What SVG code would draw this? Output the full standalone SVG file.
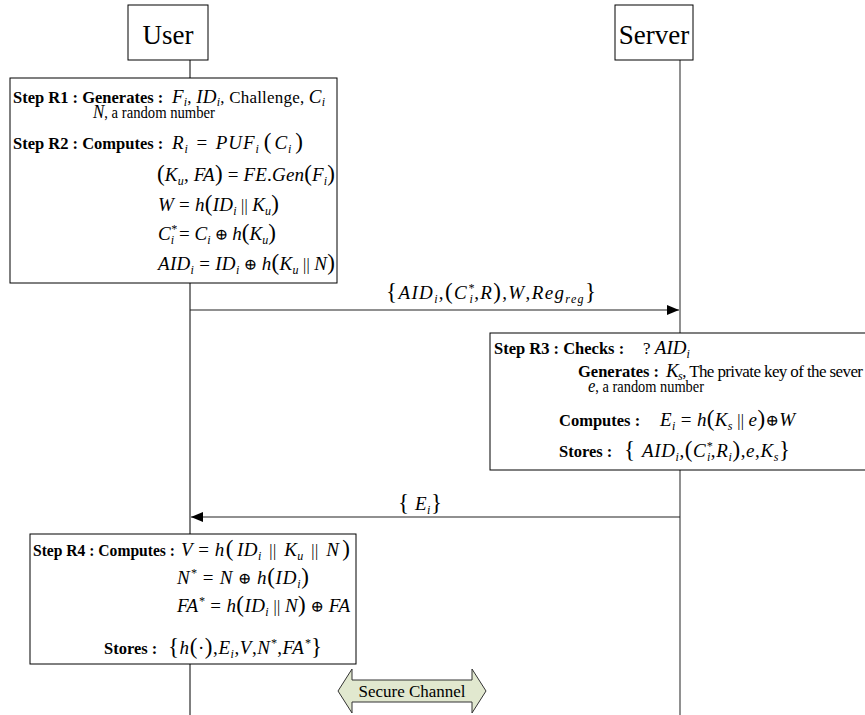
<svg xmlns="http://www.w3.org/2000/svg" width="865" height="715" viewBox="0 0 865 715">
<style>
text{font-family:"Liberation Serif","DejaVu Serif",serif;fill:#000}
.b{font-weight:bold;font-size:16.5px}
.m{font-style:italic;font-size:19px}
.r{font-style:normal}
.o{font-style:normal;font-size:16px}
.t{font-style:normal;font-size:17px}
.t2{font-style:normal;font-size:16.5px}
.s{font-size:12px}
.p{font-style:normal;font-size:23px}
.box{fill:#fff;stroke:#000;stroke-width:1}
.life{stroke:#000;stroke-width:1;fill:none}
.lifes{stroke:#555;stroke-width:1.3;fill:none}
.msg{stroke:#222;stroke-width:1.2;fill:none}
.hd{font-size:27px}
</style>
<defs>
<marker id="ah" markerWidth="12" markerHeight="10" refX="12" refY="5" orient="auto" markerUnits="userSpaceOnUse">
<path d="M0,0 L12,5 L0,10 Z" fill="#000"/>
</marker>
</defs>
<rect width="865" height="715" fill="#fff"/>
<g id="connectors">
<line class="life" x1="190" y1="60" x2="190" y2="78"/>
<line class="life" x1="190" y1="283" x2="190" y2="534"/>
<line class="life" x1="190" y1="664" x2="190" y2="715"/>
<line class="lifes" x1="680" y1="60" x2="680" y2="333"/>
<line class="lifes" x1="680" y1="470" x2="680" y2="715"/>
<line class="msg" x1="190" y1="310" x2="679" y2="310" marker-end="url(#ah)"/>
<line class="msg" x1="680" y1="517" x2="191" y2="517" marker-end="url(#ah)"/>
<text class="m" x="386" y="299" textLength="210" lengthAdjust="spacing"><tspan class="p">{</tspan>AID<tspan class="s" dy="4">i</tspan><tspan dy="-4" class="r">,</tspan><tspan class="p">(</tspan>C<tspan class="s" dy="-7">*</tspan><tspan class="s" dx="-6" dy="11">i</tspan><tspan dy="-4" class="r">,</tspan>R<tspan class="p">)</tspan><tspan class="r">,</tspan>W<tspan class="r">,</tspan>Reg<tspan class="s" dy="4">reg</tspan><tspan class="p" dy="-4">}</tspan></text>
<text class="m" x="398" y="510" textLength="44" lengthAdjust="spacing"><tspan class="p">{</tspan> E<tspan class="s" dy="4">i</tspan><tspan class="p" dy="-4">}</tspan></text>
</g>
<g id="user">
<rect class="box" x="128" y="5" width="80" height="55"/>
<text class="hd" x="168" y="44" text-anchor="middle">User</text>
</g>
<g id="server">
<rect class="box" x="615" y="5" width="78" height="55"/>
<text class="hd" x="654" y="44" text-anchor="middle">Server</text>
</g>
<g id="step-r1-r2">
<rect class="box" x="10" y="78" width="327" height="205"/>
<text class="b" x="13" y="103">Step R1 : Generates :</text>
<text class="m" x="172" y="103" textLength="153" lengthAdjust="spacing">F<tspan class="s" dy="3">i</tspan><tspan class="t" dy="-3">, </tspan>ID<tspan class="s" dy="3">i</tspan><tspan class="t" dy="-3">, Challenge, </tspan>C<tspan class="s" dy="3">i</tspan></text>
<text class="m" x="93" y="118" textLength="122" lengthAdjust="spacingAndGlyphs">N<tspan class="t2">,  a random number</tspan></text>
<text class="b" x="13" y="149">Step R2 : Computes :</text>
<text class="m" x="172" y="149" textLength="131" lengthAdjust="spacing">R<tspan class="s" dy="4">i</tspan><tspan class="r" dy="-4" dx="2"> = </tspan><tspan dx="2">PUF</tspan><tspan class="s" dy="4">i</tspan><tspan class="p" dy="-4" dx="4">(</tspan><tspan dx="2">C</tspan><tspan class="s" dy="4">i</tspan><tspan class="p" dy="-4" dx="3">)</tspan></text>
<text class="m" x="157" y="181" textLength="178" lengthAdjust="spacing"><tspan class="p">(</tspan>K<tspan class="s" dy="4">u</tspan><tspan class="r" dy="-4">, </tspan>FA<tspan class="p">)</tspan><tspan class="r"> = </tspan>FE<tspan class="r">.</tspan>Gen<tspan class="p">(</tspan>F<tspan class="s" dy="4">i</tspan><tspan class="p" dy="-4">)</tspan></text>
<text class="m" x="158" y="211" textLength="121" lengthAdjust="spacing">W<tspan class="r"> = </tspan>h<tspan class="p">(</tspan>ID<tspan class="s" dy="4">i</tspan><tspan class="o" dy="-4"> || </tspan>K<tspan class="s" dy="4">u</tspan><tspan class="p" dy="-4">)</tspan></text>
<text class="m" x="158" y="240" textLength="118" lengthAdjust="spacing">C<tspan class="s" dy="-7">*</tspan><tspan class="s" dx="-6" dy="11">i</tspan><tspan class="r" dy="-4"> = </tspan>C<tspan class="s" dy="4">i</tspan><tspan class="o" dy="-4"> ⊕ </tspan>h<tspan class="p">(</tspan>K<tspan class="s" dy="4">u</tspan><tspan class="p" dy="-4">)</tspan></text>
<text class="m" x="158" y="270" textLength="177" lengthAdjust="spacing">AID<tspan class="s" dy="4">i</tspan><tspan class="r" dy="-4"> = </tspan>ID<tspan class="s" dy="4">i</tspan><tspan class="o" dy="-4"> ⊕ </tspan>h<tspan class="p">(</tspan>K<tspan class="s" dy="4">u</tspan><tspan class="o" dy="-4"> || </tspan>N<tspan class="p">)</tspan></text>
</g>
<g id="step-r3">
<rect class="box" x="490" y="333" width="380" height="137"/>
<text class="b" x="494" y="354">Step R3 : Checks :</text>
<text class="m" x="643" y="354"><tspan class="t">? </tspan>AID<tspan class="s" dy="4">i</tspan></text>
<text class="b" x="578" y="377">Generates :</text>
<text class="m" x="666" y="377" textLength="197" lengthAdjust="spacing">K<tspan class="s" dy="3">s</tspan><tspan class="t" dy="-3">, The private key of the sever</tspan></text>
<text class="m" x="588" y="392" textLength="116" lengthAdjust="spacingAndGlyphs">e<tspan class="t2">, a random number</tspan></text>
<text class="b" x="559" y="426">Computes :</text>
<text class="m" x="660" y="426" textLength="135" lengthAdjust="spacing">E<tspan class="s" dy="4">i</tspan><tspan class="r" dy="-4"> = </tspan>h<tspan class="p">(</tspan>K<tspan class="s" dy="4">s</tspan><tspan class="o" dy="-4"> || </tspan>e<tspan class="p">)</tspan><tspan class="o">⊕</tspan>W</text>
<text class="b" x="559" y="457">Stores :</text>
<text class="m" x="624" y="457" textLength="166" lengthAdjust="spacing"><tspan class="p">{ </tspan>AID<tspan class="s" dy="4">i</tspan><tspan class="r" dy="-4">,</tspan><tspan class="p">(</tspan>C<tspan class="s" dy="-7">*</tspan><tspan class="s" dx="-6" dy="11">i</tspan><tspan class="r" dy="-4">,</tspan>R<tspan class="s" dy="4">i</tspan><tspan class="p" dy="-4">)</tspan><tspan class="r">,</tspan>e<tspan class="r">,</tspan>K<tspan class="s" dy="4">s</tspan><tspan class="p" dy="-4">}</tspan></text>
</g>
<g id="step-r4">
<rect class="box" x="30" y="534" width="326" height="130"/>
<text class="b" x="33" y="556" textLength="142" lengthAdjust="spacingAndGlyphs">Step R4 : Computes :</text>
<text class="m" x="181" y="556" textLength="169" lengthAdjust="spacing">V<tspan class="r"> = </tspan>h<tspan class="p" dx="1">(</tspan><tspan dx="3">ID</tspan><tspan class="s" dy="4">i</tspan><tspan class="o" dy="-4" dx="3"> || </tspan><tspan dx="3">K</tspan><tspan class="s" dy="4">u</tspan><tspan class="o" dy="-4" dx="3"> || </tspan><tspan dx="3">N</tspan><tspan class="p" dx="3">)</tspan></text>
<text class="m" x="177" y="584" textLength="132" lengthAdjust="spacing">N<tspan class="s" dy="-7">*</tspan><tspan class="r" dy="7"> = </tspan>N<tspan class="o"> ⊕ </tspan>h<tspan class="p">(</tspan>ID<tspan class="s" dy="4">i</tspan><tspan class="p" dy="-4">)</tspan></text>
<text class="m" x="177" y="612" textLength="173" lengthAdjust="spacing">FA<tspan class="s" dy="-7">*</tspan><tspan class="r" dy="7"> = </tspan>h<tspan class="p">(</tspan>ID<tspan class="s" dy="4">i</tspan><tspan class="o" dy="-4"> || </tspan>N<tspan class="p">)</tspan><tspan class="o"> ⊕ </tspan>FA</text>
<text class="b" x="104" y="654">Stores :</text>
<text class="m" x="168" y="654" textLength="154" lengthAdjust="spacing"><tspan class="p">{</tspan>h<tspan class="p">(</tspan><tspan class="r">·</tspan><tspan class="p">)</tspan><tspan class="r">,</tspan>E<tspan class="s" dy="4">i</tspan><tspan class="r" dy="-4">,</tspan>V<tspan class="r">,</tspan>N<tspan class="s" dy="-7">*</tspan><tspan class="r" dy="7">,</tspan>FA<tspan class="s" dy="-7">*</tspan><tspan class="p" dy="7">}</tspan></text>
</g>
<g id="secure-channel">
<path d="M338,691 L352,669 L352,680 L472,680 L472,669 L486,691 L472,713 L472,702 L352,702 L352,713 Z" fill="#e1e8cf" stroke="#333" stroke-width="1"/>
<text x="412" y="697" text-anchor="middle" font-size="17">Secure Channel</text>
</g>
</svg>
